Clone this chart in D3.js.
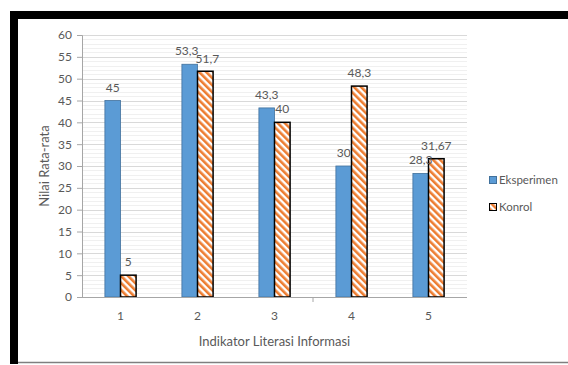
<!DOCTYPE html>
<html>
<head>
<meta charset="utf-8">
<script src="https://cdn.jsdelivr.net/npm/d3@7"></script>
<style>
  html, body { margin: 0; padding: 0; background: #fff; }
  svg { display: block; }
  text { font-family: Lato, "Open Sans", sans-serif; fill: #595959; }
</style>
</head>
<body>
<svg id="chart" width="568" height="365"></svg>
<script>
// Mean scores per information-literacy indicator
const categories = ["1", "2", "3", "4", "5"];
const eksperimen = [45, 53.3, 43.3, 30, 28.3];
const konrol = [5, 51.7, 40, 48.3, 31.67];
const eksperimenLabels = ["45", "53,3", "43,3", "30", "28,3"];
const konrolLabels = ["5", "51,7", "40", "48,3", "31,67"];
const seriesNames = ["Eksperimen", "Konrol"];
const yTicks = [0, 5, 10, 15, 20, 25, 30, 35, 40, 45, 50, 55, 60];

const svg = d3.select("#chart");
const W = 568, H = 365;

// outer frame: heavy black top and left edges, thin grey bottom edge
svg.append("rect").attr("x", 10).attr("y", 11).attr("width", W - 10).attr("height", 8).attr("fill", "#000");
svg.append("rect").attr("x", 10).attr("y", 11).attr("width", 8).attr("height", 353).attr("fill", "#000");
svg.append("line").attr("x1", 18).attr("x2", W).attr("y1", 362.5).attr("y2", 362.5)
  .attr("stroke", "#7f7f7f").attr("stroke-width", 1.5);

// hatched fill for the control group
const defs = svg.append("defs");
const pat = defs.append("pattern").attr("id", "hatch")
  .attr("patternUnits", "userSpaceOnUse").attr("width", 5).attr("height", 5)
  .attr("patternTransform", "rotate(-45)");
pat.append("rect").attr("width", 5).attr("height", 5).attr("fill", "#fff");
pat.append("rect").attr("width", 2.6).attr("height", 5).attr("fill", "#ED7D31");

const plot = { left: 82, right: 467, top: 35, bottom: 297 };

const y = d3.scaleLinear().domain([0, 60]).range([plot.bottom, plot.top]);
const x0 = d3.scaleBand().domain(categories).range([plot.left, plot.right]).padding(0);
const groupW = x0.bandwidth() * 0.405;
const x1 = d3.scaleBand().domain(seriesNames).range([0, groupW]).padding(0);

// minor gridlines every unit, major every 5
const g = svg.append("g");
g.selectAll("line.minor").data(d3.range(1, 60).filter(v => v % 5 !== 0)).join("line")
  .attr("x1", plot.left).attr("x2", plot.right)
  .attr("y1", d => Math.round(y(d)) + 0.5).attr("y2", d => Math.round(y(d)) + 0.5)
  .attr("stroke", "#f0f0f0").attr("stroke-width", 1);
g.selectAll("line.major").data(yTicks.filter(v => v > 0)).join("line")
  .attr("x1", plot.left).attr("x2", plot.right)
  .attr("y1", d => Math.round(y(d)) + 0.5).attr("y2", d => Math.round(y(d)) + 0.5)
  .attr("stroke", "#d9d9d9").attr("stroke-width", 1);

// y axis
const yAxis = d3.axisLeft(y).tickValues(yTicks).tickSize(5).tickPadding(5).tickFormat(d3.format("d"));
const ya = svg.append("g").attr("transform", `translate(${plot.left},0)`).call(yAxis);
ya.select(".domain").attr("stroke", "#a6a6a6").attr("stroke-width", 1);
ya.selectAll(".tick line").attr("stroke", "#a6a6a6");
ya.selectAll(".tick text").attr("font-size", 12).attr("fill", "#4d4d4d")
  .attr("font-family", "Lato, 'Open Sans', sans-serif");

// bars
const rows = categories.map((c, i) => ({ c, vals: [
  { s: "Eksperimen", v: eksperimen[i], label: eksperimenLabels[i] },
  { s: "Konrol", v: konrol[i], label: konrolLabels[i] }
] }));

const grp = svg.append("g").selectAll("g").data(rows).join("g")
  .attr("transform", d => `translate(${x0(d.c) + x0.bandwidth() / 2 - groupW / 2},0)`);

grp.selectAll("rect").data(d => d.vals).join("rect")
  .attr("x", d => x1(d.s))
  .attr("y", d => y(d.v))
  .attr("width", x1.bandwidth())
  .attr("height", d => y(0) - y(d.v))
  .attr("fill", d => d.s === "Eksperimen" ? "#5B9BD5" : "url(#hatch)")
  .attr("stroke", d => d.s === "Eksperimen" ? "#41719C" : "#000")
  .attr("stroke-width", d => d.s === "Eksperimen" ? 0.8 : 1.5);

// x axis
const xa = svg.append("g").attr("transform", `translate(0,${plot.bottom})`);
xa.append("line").attr("x1", plot.left).attr("x2", plot.right).attr("y1", 0.5).attr("y2", 0.5)
  .attr("stroke", "#a6a6a6").attr("stroke-width", 1);
// category divider tick between 3 and 4
const divX = x0("4");
xa.append("line").attr("x1", divX).attr("x2", divX).attr("y1", 0).attr("y2", 5)
  .attr("stroke", "#a6a6a6");
xa.selectAll("text").data(categories).join("text")
  .attr("x", d => x0(d) + x0.bandwidth() / 2)
  .attr("y", 23)
  .attr("text-anchor", "middle")
  .attr("font-size", 12)
  .attr("fill", "#4d4d4d")
  .text(d => d);

// value labels; when the two labels of a pair sit close together they are
// pushed apart a little so each stays readable
grp.selectAll("text.val").data(d => {
    const close = Math.abs(y(d.vals[0].v) - y(d.vals[1].v)) < 14;
    return d.vals.map((v, k) => ({ ...v, dx: close ? (k === 0 ? -3 : 2) : 0, dy: close && k === 1 ? 1 : 0 }));
  }).join("text")
  .attr("class", "val")
  .attr("x", d => x1(d.s) + x1.bandwidth() / 2 + d.dx)
  .attr("y", d => y(d.v) - 9 + d.dy)
  .attr("text-anchor", "middle")
  .attr("font-size", 12)
  .attr("fill", "#404040")
  .text(d => d.label);

// axis titles
svg.append("text")
  .attr("x", (plot.left + plot.right) / 2)
  .attr("y", 346)
  .attr("text-anchor", "middle")
  .attr("font-size", 13)
  .attr("fill", "#404040")
  .text("Indikator Literasi Informasi");

svg.append("text")
  .attr("transform", `translate(49,${(plot.top + plot.bottom) / 2}) rotate(-90)`)
  .attr("text-anchor", "middle")
  .attr("font-size", 13)
  .attr("fill", "#404040")
  .text("Nilai Rata-rata");

// legend
const legend = svg.append("g").attr("transform", "translate(489,176)");
const li = legend.selectAll("g").data(seriesNames).join("g")
  .attr("transform", (d, i) => `translate(0,${i * 27})`);
li.append("rect").attr("x", 0.5).attr("y", 0.5).attr("width", 7).attr("height", 7)
  .attr("fill", d => d === "Eksperimen" ? "#5B9BD5" : "url(#hatch)")
  .attr("stroke", d => d === "Eksperimen" ? "#41719C" : "#000")
  .attr("stroke-width", 1);
li.append("text").attr("x", 10).attr("y", 8)
  .attr("font-size", 11.5).attr("fill", "#404040")
  .text(d => d);
</script>
</body>
</html>
